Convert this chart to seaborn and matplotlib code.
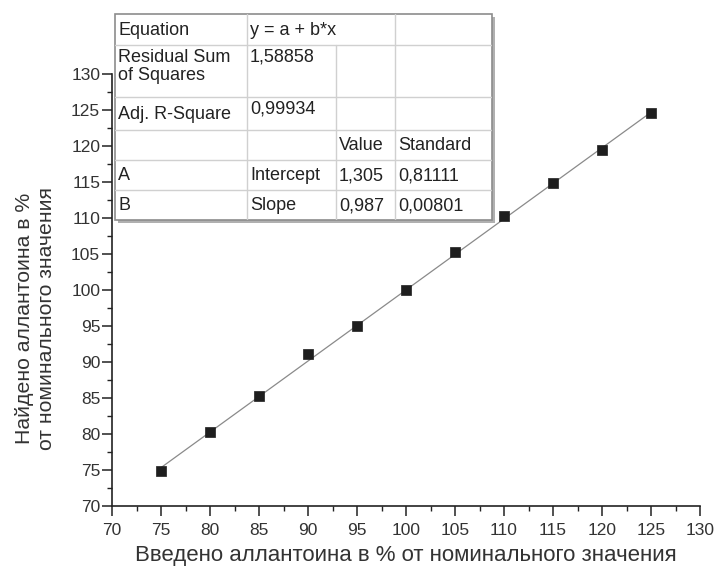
import matplotlib
matplotlib.use("Agg")
import matplotlib.pyplot as plt
import seaborn as sns
import numpy as np
import pandas as pd
from matplotlib.ticker import MultipleLocator

# Data
x_added = [75, 80, 85, 90, 95, 100, 105, 110, 115, 120, 125]
y_found = [74.8, 80.3, 85.3, 91.1, 95.0, 100.0, 105.3, 110.3, 114.9, 119.4, 124.6]
intercept = 1.305
slope = 0.987

x_label = "Введено аллантоина в % от номинального значения"
y_label = "Найдено аллантоина в %\nот номинального значения"

table_rows = [
    ["Equation", "y = a + b*x", "", ""],
    ["Residual Sum\nof Squares", "1,58858", "", ""],
    ["Adj. R-Square", "0,99934", "", ""],
    ["", "", "Value", "Standard"],
    ["A", "Intercept", "1,305", "0,81111"],
    ["B", "Slope", "0,987", "0,00801"],
]

sns.set_theme(style="ticks")
plt.rcParams['font.family'] = ['Liberation Sans', 'DejaVu Sans']

fig = plt.figure(figsize=(7.14, 5.70), dpi=100)
W, H = 714, 570
ax = fig.add_axes([112 / W, 1 - 506 / H, (700 - 112) / W, (506 - 74) / H])

df = pd.DataFrame({"x": x_added, "y": y_found})
fit_x = np.array([min(x_added), max(x_added)])
fit_df = pd.DataFrame({"x": fit_x, "y": intercept + slope * fit_x})
sns.lineplot(data=fit_df, x="x", y="y", ax=ax, color="#8a8a8a", linewidth=0.9)
sns.scatterplot(data=df, x="x", y="y", ax=ax, marker="s", s=55, color="#1e1e1e",
                edgecolor="#1e1e1e", linewidth=0.5, zorder=3)

ax.set_xlim(70, 130)
ax.set_ylim(70, 130)
ax.xaxis.set_major_locator(MultipleLocator(5))
ax.yaxis.set_major_locator(MultipleLocator(5))
ax.xaxis.set_minor_locator(MultipleLocator(2.5))
ax.yaxis.set_minor_locator(MultipleLocator(2.5))
for s in ["top", "right"]:
    ax.spines[s].set_visible(False)
for s in ["left", "bottom"]:
    ax.spines[s].set_color("#222222")
    ax.spines[s].set_linewidth(1.2)
ax.tick_params(which="major", direction="out", length=7, width=1.1, color="#222222",
               labelsize=12.5, labelcolor="#333333")
ax.tick_params(which="minor", direction="out", length=3.6, width=1.0, color="#222222")
ax.tick_params(axis="x", which="major", pad=5)
ax.tick_params(axis="y", which="major", pad=1.5)
ax.set_xlabel(x_label, fontsize=16, color="#333333", labelpad=5)
ax.set_ylabel(y_label, fontsize=15.3, color="#333333", linespacing=1.2)
ax.yaxis.set_label_coords(-0.0954, 0.435)

# Table as annotation box
tx0, ty0, tx1, ty1 = 115, 14, 492, 220
tax = fig.add_axes([tx0 / W, 1 - ty1 / H, (tx1 - tx0) / W, (ty1 - ty0) / H])
tax.set_xlim(0, tx1 - tx0)
tax.set_ylim(ty1 - ty0, 0)
tax.axis("off")
# shadow
tax.add_patch(plt.Rectangle((3, 3), tx1 - tx0, ty1 - ty0, facecolor="#b0b0b0",
                            edgecolor="none", clip_on=False, zorder=0))
tax.add_patch(plt.Rectangle((0, 0), tx1 - tx0, ty1 - ty0, facecolor="white",
                            edgecolor="#8c8c8c", linewidth=1.2, clip_on=False, zorder=1))
row_b = [0, 31, 83, 116, 146, 176, 206]
col_b = [0, 132, 221, 280, 377]
grid_c = "#d0d0d0"
for yb in row_b[1:-1]:
    tax.plot([0, col_b[-1]], [yb, yb], color=grid_c, lw=1.0, zorder=2)
for i in range(len(table_rows)):
    for j, xb in enumerate(col_b[1:-1], start=1):
        if i == 0 and j == 2:
            continue
        tax.plot([xb, xb], [row_b[i], row_b[i + 1]], color=grid_c, lw=1.0, zorder=2)
for i, row in enumerate(table_rows):
    for j, txt in enumerate(row):
        if not txt:
            continue
        top = row_b[i]
        if i in (1, 2) and j == 1:
            ty = top + 3
            va = "top"
        elif i == 1 and j == 0:
            ty = top + 4
            va = "top"
        else:
            ty = (row_b[i] + row_b[i + 1]) / 2 + 1
            va = "center"
        tax.text(col_b[j] + 3, ty, txt, fontsize=13, color="#222222", ha="left", va=va,
                 linespacing=1.1, zorder=3)

fig.savefig("out.png", dpi=100)
